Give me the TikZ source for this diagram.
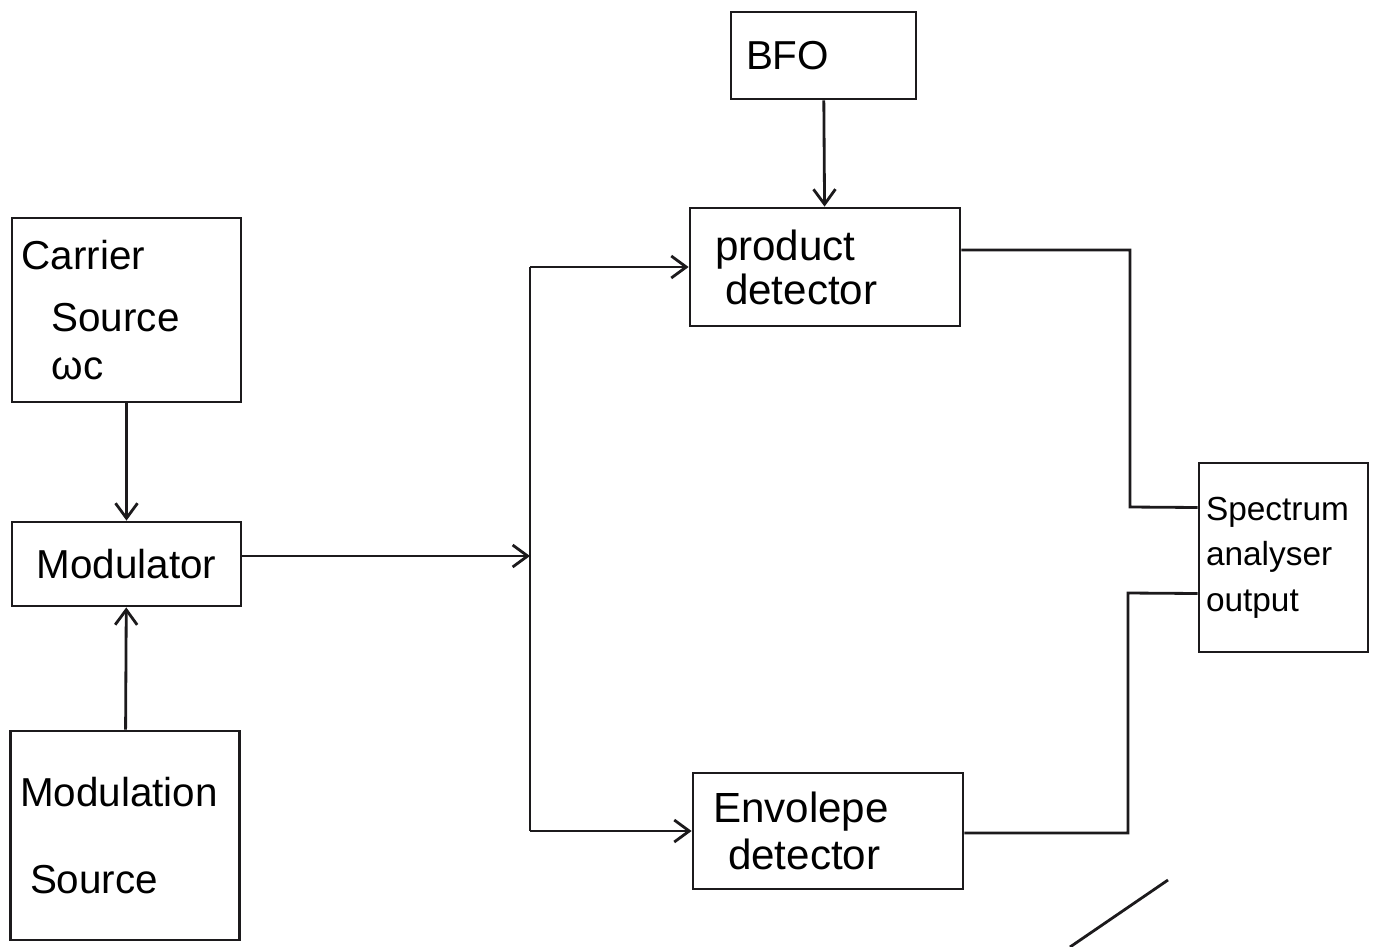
\documentclass[tikz,border=0pt]{standalone}
\usepackage{fontspec}
\setmainfont{Liberation Sans}
\usepackage{xcolor}
\usepackage{tikz}
\usetikzlibrary{calc,arrows.meta,positioning}
\definecolor{inkx}{HTML}{1C1A1C}
\tikzset{
  ar/.style={-{Straight Barb[length=3mm,width=4.4mm]},line width=1.6pt,inkx},
  ln/.style={line width=1.6pt,inkx},
  blk/.style={draw=inkx,line width=1.6pt,inner sep=5pt,font=\fontsize{23}{27}\selectfont},
}

\begin{document}
\begin{tikzpicture}[x=0.02cm,y=-0.02cm]
\useasboundingbox (0,0) rectangle (1380,947);
% blocks
\node[blk,minimum width=3.7cm,minimum height=1.74cm,text width=3.1cm] (bfo) at (823.5,55.5) {BFO};
\node[blk,minimum width=5.4cm,minimum height=2.36cm,align=left,text width=4.4cm,font=\fontsize{24}{25}\selectfont] (prod) at (825,267) {product\\\hspace*{0.2cm}detector};
\node[blk,minimum width=4.58cm,minimum height=3.68cm,align=left,text width=4.2cm] (car) at (126.5,310) {Carrier\\[0.3cm]\hspace*{0.6cm}Source\\\hspace*{0.6cm}ωc};
\node[blk,minimum width=4.58cm,minimum height=1.68cm,text width=4.2cm,align=center] (mod) at (126.5,564) {Modulator};
\node[blk,minimum width=4.58cm,minimum height=4.18cm,align=left,text width=4.2cm] (msrc) at (125,835.5) {Modulation\\[0.8cm]\hspace*{0.2cm}Source};
\node[blk,minimum width=5.4cm,minimum height=2.32cm,align=left,text width=4.6cm,font=\fontsize{24}{27}\selectfont] (env) at (828,831) {Envolepe\\\hspace*{0.3cm}detector};
\node[blk,minimum width=3.38cm,minimum height=3.78cm,align=left,text width=3.1cm,inner sep=3pt,font=\fontsize{19}{26}\selectfont] (spec) at (1283.5,557.5) {Spectrum\\analyser\\output};
% feed bus
\coordinate (bt) at (530,267);
\coordinate (bm) at (530,556);
\coordinate (bb) at (530,831);
\coordinate (p1) at ($(prod.east)+(0,-17)$);
\coordinate (e1) at ($(env.east)+(0,2)$);
\coordinate (s1) at ($(spec.west)+(0,-50)$);
\coordinate (s2) at ($(spec.west)+(0,36)$);
% connectors
\draw[ar] (bfo) -- (prod);
\draw[ar] (car) -- (mod);
\draw[ar] (msrc) -- (mod);
\draw[ar] (mod.east |- bm) -- (bm);
\draw[ln] (bt) -- (bb);
\draw[ar] (bt) -- (prod.west);
\draw[ar] (bb) -- (env.west);
\draw[ln] (p1) -| (1130,507) -- (s1);
\draw[ln] (e1) -| (1128,593) -- (s2);
\draw[ln] (1070,947) -- (1168,880);
\end{tikzpicture}
\end{document}
